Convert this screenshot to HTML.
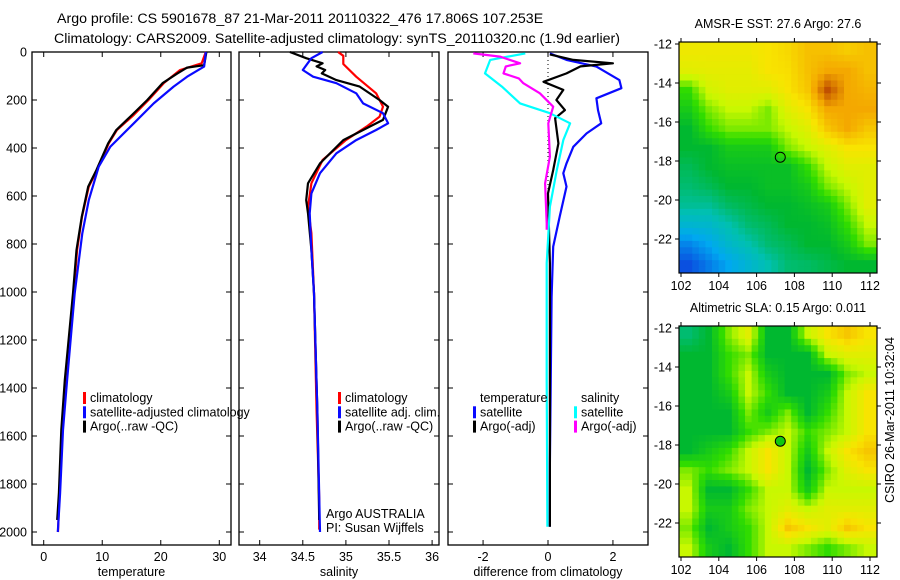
<!DOCTYPE html>
<html><head><meta charset="utf-8"><style>
html,body{margin:0;padding:0;background:#fff}
svg{display:block;font-family:"Liberation Sans",sans-serif}
</style></head><body>
<svg id="c" width="900" height="580" viewBox="0 0 900 580" xmlns="http://www.w3.org/2000/svg">
<g font-size="14.2" fill="#000">
<text x="57" y="23">Argo profile: CS 5901678_87 21-Mar-2011 20110322_476 17.806S 107.253E</text>
<text x="54" y="43">Climatology: CARS2009. Satellite-adjusted climatology: synTS_20110320.nc (1.9d earlier)</text>
</g>
<g id="plots"></g>
</svg>
<script>
// ---------- data ----------
const depthTicks=[0,200,400,600,800,1000,1200,1400,1600,1800,2000];
const tempTicks=[0,10,20,30];
const salTicks=[34,34.5,35,35.5,36];
const salTickLabels=["34","34.5","35","35.5","36"];
const diffTicks=[-2,0,2];
const tClimD=[0,26,47,75,130,200,262,325,381,492,561,686,825,1005,1367,1575,1838,2000];
const tClimV=[27.7,27.3,27,23.3,20.5,17.9,15.4,12.5,11.1,9.1,7.7,6.55,5.7,5.1,3.7,3.1,2.7,2.45];
const tSatD=[0,61,103,144,214,297,394,478,617,756,1005,1367,1575,1838,2000];
const tSatV=[27.7,27.4,24.5,22.2,18.8,15.4,11.4,9.4,7.7,6.6,5.3,4.0,3.3,2.8,2.4];
const tArgD=[0,30,55,65,90,130,200,262,325,381,492,561,686,825,1005,1367,1575,1838,1950];
const tArgV=[27.8,27.6,27.4,24.5,22.8,20.3,17.7,15.1,12.4,11.0,9.0,7.6,6.5,5.6,5.0,3.6,3.0,2.6,2.3];
const sClimD=[0,16,50,103,172,228,270,311,367,450,547,645,755,1005,1500,1860,1990];
const sClimV=[34.91,34.97,34.97,35.12,35.35,35.43,35.39,35.24,35.0,34.73,34.6,34.56,34.6,34.63,34.66,34.69,34.69];
const sSatD=[0,26,75,103,130,172,214,255,297,325,367,422,505,589,672,825,1005,1500,2000];
const sSatV=[34.73,34.6,34.5,34.62,34.89,35.12,35.2,35.43,35.49,35.35,35.12,34.89,34.7,34.6,34.58,34.6,34.63,34.67,34.7];
const sArgD=[0,26,47,60,75,89,117,144,200,228,283,325,367,464,547,617,672,825,1005,1500,1950];
const sArgV=[34.35,34.54,34.73,34.66,34.76,34.72,34.89,35.16,35.39,35.49,35.43,35.2,34.97,34.7,34.56,34.54,34.56,34.6,34.63,34.67,34.69];
const dTSatD=[6,33,61,117,151,193,242,297,339,395,464,505,561,686,811,1020,1714,1978];
const dTSatV=[0.06,0.57,1.49,2.2,2.26,1.49,1.54,1.64,1.19,0.78,0.57,0.47,0.57,0.36,0.16,0.11,0.06,0.06];
const dTArgD=[10,33,47,60,89,124,158,200,242,276,381,492,589,880,1978];
const dTArgV=[0.06,0.78,2.0,1.0,0.57,-0.14,0.47,0.26,0.52,0.22,0.32,0.16,0.0,0.06,0.06];
const dSSatD=[6,33,89,144,214,255,297,367,492,645,880,1367,1978];
const dSSatV=[-0.7,-1.78,-1.94,-1.42,-0.86,0.06,0.68,0.47,0.27,0.06,-0.04,-0.04,-0.02];
const dSArgD=[6,19,47,60,89,110,130,172,228,297,436,547,714,741];
const dSArgV=[-2.3,-1.48,-0.86,-1.3,-1.37,-0.9,-0.76,-0.25,0.16,0.01,0.06,-0.09,-0.04,-0.04];
const lonTicks=[102,104,106,108,110,112];
const latTicks=[-12,-14,-16,-18,-20,-22];
const sstGrid=[
[5.8,5.8,5.8,5.8,6,6.2,6.6,6.6,6.4,6.6],
[5.5,5.6,5.6,5.6,6,6.1,6.6,7,7,6.6],
[4,5.2,5.5,5.5,5.5,6,6.5,8,7,6.8],
[3.5,4.5,5,5,4.5,5.5,6,7,7,7],
[3,4,4.5,4.5,4.5,5,5.5,6.5,7,6.5],
[3,3,3.5,3.5,3.5,4.5,5,5.5,6,6],
[2.7,3,3.2,3.2,3.2,3.2,4,5,5.5,5.5],
[2.5,2.7,3,3,3.2,3.2,3.5,4.5,5,5.5],
[2.2,2.2,2.6,2.8,3,3,3.2,3.5,4.5,5.5],
[1.5,1.6,2,2.5,2.7,3,3,3.2,4,5],
[0.6,1,1.6,2,2.5,2.7,3,3,3.5,4.5],
[0,0.5,1,1.5,2,2.5,2.6,2.8,3,3]];
const slaGrid=[
[2.5,3,4.5,5.5,3,3,5,6,6.5,6],
[3,3,4,4.5,3,3,3,5,5.5,5.5],
[3,3,4,5,3.5,3,3,3,4.5,5],
[3,3,3.5,5,4,3,3,3.5,5,6],
[3,3,3,4.5,3.5,4.5,3,4,5,6],
[3,3,3,4,4.5,5,4,4.5,5,6],
[3,3.5,4,5,6,5,3.5,5,6,6.5],
[4.5,4,4.5,5,6,5,3,4.5,5.5,6],
[5,3,3,4,5,5,3.5,5,5,5],
[5,3.5,3.5,4.5,5,5.5,5,5.5,5.5,5.5],
[4.5,3,3.5,4,5,6.5,6,5.5,6.5,6],
[5,3.5,3,4,5,5,4.5,4,4.5,5]];
const argoLon=107.253, argoLat=-17.806;

// ---------- helpers ----------
const NS="http://www.w3.org/2000/svg";
const root=document.getElementById('plots');
function mk(tag,at,parent){const e=document.createElementNS(NS,tag);for(const k in at)e.setAttribute(k,at[k]);(parent||root).appendChild(e);return e;}
const Y0=52,PXM=0.24;
const yD=d=>Y0+d*PXM;
const panels=[
 {x0:32,x1:231,min:-2,max:32,name:'temperature-panel',label:'temperature',ticks:tempTicks,tl:tempTicks.map(String)},
 {x0:239,x1:439,min:33.76,max:36.08,name:'salinity-panel',label:'salinity',ticks:salTicks,tl:salTickLabels},
 {x0:448,x1:648,min:-3.08,max:3.08,name:'difference-panel',label:'difference from climatology',ticks:diffTicks,tl:diffTicks.map(String)}];
panels.forEach(p=>{p.sx=v=>p.x0+(v-p.min)/(p.max-p.min)*(p.x1-p.x0);});
const TOP=52,BOT=545;

panels.forEach((p,i)=>{
 const g=mk('g',{});
 
 
 const fr=mk('rect',{x:p.x0,y:TOP,width:p.x1-p.x0,height:BOT-TOP,fill:'none',stroke:'#000','stroke-width':1.3},g);
 
 
 depthTicks.forEach(d=>{
  mk('line',{x1:p.x0,x2:p.x0+5,y1:yD(d),y2:yD(d),stroke:'#000'},g);
  mk('line',{x1:p.x1,x2:p.x1-5,y1:yD(d),y2:yD(d),stroke:'#000'},g);
  if(i===0){const t=mk('text',{x:27,y:yD(d)+4.5,'text-anchor':'end','font-size':12.5},g);t.textContent=d;
   
   }
 });
 p.ticks.forEach((v,k)=>{
  const x=p.sx(v);
  mk('line',{x1:x,x2:x,y1:BOT,y2:BOT-5,stroke:'#000'},g);
  mk('line',{x1:x,x2:x,y1:TOP,y2:TOP+5,stroke:'#000'},g);
  const t=mk('text',{x:x,y:561,'text-anchor':'middle','font-size':12.5},g);t.textContent=p.tl[k];
  
  
 });
 const xl=mk('text',{x:(p.x0+p.x1)/2,y:576,'text-anchor':'middle','font-size':12.5},g);xl.textContent=p.label;
 
 
});

function line(p,D,V,color,name,w){
 const pts=D.map((d,i)=>p.sx(V[i]).toFixed(1)+','+yD(d).toFixed(1)).join(' ');
 const e=mk('polyline',{points:pts,fill:'none',stroke:color,'stroke-width':w||2.2,'stroke-linejoin':'round'});
 
 
}
const [PT,PS,PD]=panels;
const z=mk('line',{x1:PD.sx(0),x2:PD.sx(0),y1:TOP,y2:190,stroke:'#000','stroke-dasharray':'1,3'});


line(PT,tClimD,tClimV,'#f00','temp-climatology-line');
line(PT,tArgD,tArgV,'#000','temp-argo-line');
line(PT,tSatD,tSatV,'#0a0aff','temp-satellite-line');
line(PS,sClimD,sClimV,'#f00','sal-climatology-line');
line(PS,sArgD,sArgV,'#000','sal-argo-line');
line(PS,sSatD,sSatV,'#0a0aff','sal-satellite-line');
line(PD,dTSatD,dTSatV,'#0a0aff','diff-temp-satellite-line');
line(PD,dTArgD,dTArgV,'#000','diff-temp-argo-line');
line(PD,dSSatD,dSSatV,'#0ff','diff-sal-satellite-line');
line(PD,dSArgD,dSArgV,'#f0f','diff-sal-argo-line');

function legend(x,y,items,name){
 const g=mk('g',{});
 
 
 items.forEach((it,i)=>{
  const yy=y+i*14.3;
  if(it[1]){mk('rect',{x:x,y:yy-10,width:3,height:12,fill:it[1]},g);}
  const t=mk('text',{x:x+7,y:yy,'font-size':12.5},g);t.textContent=it[0];
 });
}
legend(83,402,[['climatology','#f00'],['satellite-adjusted climatology','#0a0aff'],['Argo(..raw -QC)','#000']],'temperature-legend');
legend(338,402,[['climatology','#f00'],['satellite adj. clim.','#0a0aff'],['Argo(..raw -QC)','#000']],'salinity-legend');
legend(473,402,[['temperature',null],['satellite','#0a0aff'],['Argo(-adj)','#000']],'diff-temperature-legend');
legend(574,402,[['salinity',null],['satellite','#0ff'],['Argo(-adj)','#f0f']],'diff-salinity-legend');
const cr=mk('g',{'font-size':12.5});


mk('text',{x:326,y:518},cr).textContent='Argo AUSTRALIA';
mk('text',{x:326,y:532},cr).textContent='PI: Susan Wijffels';

// ---------- maps ----------
const palette=['#0a50e0','#00a8f0','#00c0b0','#00b830','#30dc00','#c8f800','#f8e400','#f4a800','#c05000'];
function hex2(c){return [1,3,5].map(i=>parseInt(c.substr(i,2),16));}
function col(v){v=Math.max(0,Math.min(8,v));const i=Math.min(7,Math.floor(v)),f=v-i;const a=hex2(palette[i]),b=hex2(palette[i+1]);return 'rgb('+a.map((x,k)=>Math.round(x+(b[k]-x)*f)).join(',')+')';}
function sample(grid,r,c){ // bilinear at fractional cell-centre coords
 const R=grid.length,C=grid[0].length;
 r=Math.max(0,Math.min(R-1,r));c=Math.max(0,Math.min(C-1,c));
 const r0=Math.floor(r),c0=Math.floor(c),r1=Math.min(R-1,r0+1),c1=Math.min(C-1,c0+1),fr=r-r0,fc=c-c0;
 return grid[r0][c0]*(1-fr)*(1-fc)+grid[r0][c1]*(1-fr)*fc+grid[r1][c0]*fr*(1-fc)+grid[r1][c1]*fr*fc;
}
function map(top,grid,title,name,filled){
 const X0=679,X1=877,Y1=top+231;
 const lonX=l=>681+(l-102)*18.9;
 const latY=l=>top+2+(-12-l)*19.5;
 const g=mk('g',{});
 
 
 const rows=grid.length,cols=grid[0].length,S=3;
 const cw=(X1-X0)/(cols*S),ch=(Y1-top)/(rows*S);
 for(let ri=0;ri<rows*S;ri++)for(let ci=0;ci<cols*S;ci++){
  const v=sample(grid,(ri+0.5)/S-0.5,(ci+0.5)/S-0.5);
  const c=mk('rect',{x:(X0+ci*cw).toFixed(2),y:(top+ri*ch).toFixed(2),width:(cw+0.5).toFixed(2),height:(ch+0.5).toFixed(2),fill:col(v)},g);
  
  
 }
 mk('rect',{x:X0,y:top,width:X1-X0,height:Y1-top,fill:'none',stroke:'#000','stroke-width':1.2},g);
 lonTicks.forEach(l=>{const x=lonX(l);
  mk('line',{x1:x,x2:x,y1:top,y2:top-4,stroke:'#000'},g);mk('line',{x1:x,x2:x,y1:Y1,y2:Y1+4,stroke:'#000'},g);
  const t=mk('text',{x:x,y:Y1+17,'text-anchor':'middle','font-size':12.5},g);t.textContent=l;
  
  });
 latTicks.forEach(l=>{const y=latY(l);
  mk('line',{x1:X0,x2:X0-4,y1:y,y2:y,stroke:'#000'},g);mk('line',{x1:X1,x2:X1+4,y1:y,y2:y,stroke:'#000'},g);
  const t=mk('text',{x:672,y:y+4.5,'text-anchor':'end','font-size':12.5},g);t.textContent=l;
  
  });
 const tt=mk('text',{x:(X0+X1)/2,y:top-14,'text-anchor':'middle','font-size':12.5},g);tt.textContent=title;
 
 
 const m=mk('circle',{cx:lonX(argoLon),cy:latY(argoLat),r:5,fill:filled?'#10c810':'none',stroke:'#000','stroke-width':1},g);
 
 
}
map(42,sstGrid,'AMSR-E SST: 27.6 Argo: 27.6','sst-map',false);
map(326,slaGrid,'Altimetric SLA: 0.15 Argo: 0.011','sla-map',true);
const ts=mk('text',{x:0,y:0,'font-size':12.5,'text-anchor':'middle',transform:'translate(894,420) rotate(-90)'});
ts.textContent='CSIRO 26-Mar-2011 10:32:04';


</script>
</body></html>
